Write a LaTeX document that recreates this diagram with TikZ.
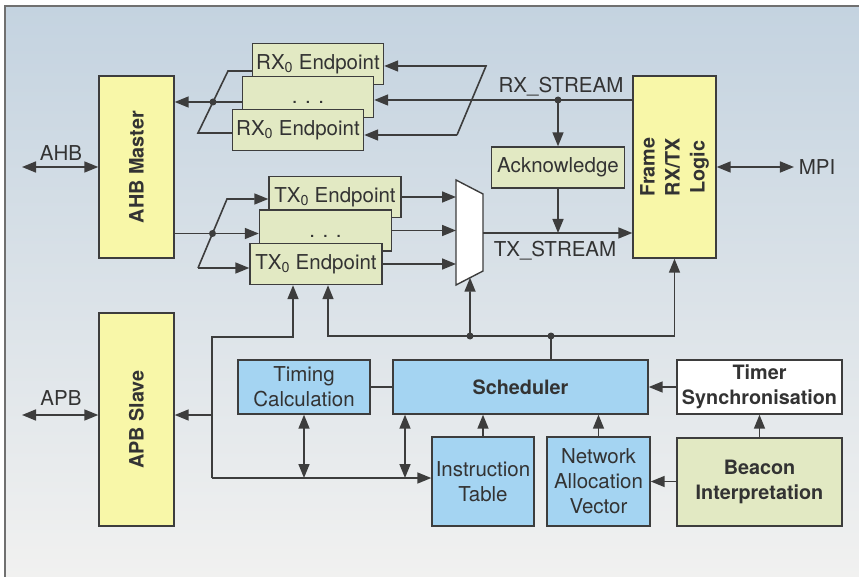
\documentclass[tikz,border=0pt]{standalone}
\usepackage{fontspec}
\setmainfont{TeX Gyre Heros}
\usepackage{xcolor}
\usepackage{tikz}
\usetikzlibrary{arrows.meta,calc}

\definecolor{linegray}{HTML}{3D3D3D}
\definecolor{textgray}{HTML}{333333}
\definecolor{framegray}{HTML}{707070}
\definecolor{yellowfill}{HTML}{F8F7A8}
\definecolor{greenfill}{HTML}{E2E9C3}
\definecolor{bluefill}{HTML}{A4D4F2}
\definecolor{bgtop}{HTML}{C4D3E0}
\definecolor{bgmid}{HTML}{DCE2E8}
\definecolor{bgbottom}{HTML}{F1F1F0}

\begin{document}
\begin{tikzpicture}[x=1pt, y=-1pt, color=linegray, line width=1.6pt,
    font=\fontsize{20.5}{25}\selectfont,
    >={Triangle[length=14pt,width=11pt]},
    blk/.style={rectangle, draw, line width=1.4pt, inner sep=0pt, align=center, text=textgray},
    yellowblk/.style={blk, fill=yellowfill},
    greenblk/.style={blk, fill=greenfill},
    blueblk/.style={blk, fill=bluefill},
    whiteblk/.style={blk, fill=white},
    boldtext/.style={font=\fontsize{19.8}{25}\selectfont\bfseries},
    bustag/.style={text=textgray, inner sep=2pt}]
    \useasboundingbox (0,0) rectangle (859,577);

    % Background
    \shade[top color=bgtop, middle color=bgmid, bottom color=bgbottom] (5,6) rectangle (859,577);
    \draw[framegray, line width=1.2pt] (5,577) -- (5,6) -- (859,6);

    % Bus interfaces
    \node[yellowblk, boldtext, minimum width=75pt, minimum height=182pt] (ahb) at (136.5,167) {\rotatebox{90}{AHB Master}};
    \node[yellowblk, boldtext, minimum width=75pt, minimum height=213pt] (apb) at (136.5,419.5) {\rotatebox{90}{APB Slave}};
    \node[yellowblk, boldtext, minimum width=83pt, minimum height=182pt] (frame) at (674.5,167)
        {\rotatebox{90}{\begin{tabular}{@{}c@{}}Frame\\RX/TX\\Logic\end{tabular}}};

    \node[bustag] (ahbtag) at (61,153) {AHB};
    \node[bustag] (apbtag) at (61,398) {APB};
    \node[bustag, inner sep=4pt] (mpi) at (817,167) {MPI};
    \coordinate (ahbbus) at (22,167);
    \coordinate (apbbus) at (22,415);
    \draw[<->] (ahbbus) -- (ahb.west);
    \draw[<->] (apbbus) -- (apbbus -| apb.west);
    \draw[<->] (frame.east) -- (mpi.west);

    % Endpoints
    \node[greenblk, minimum width=131pt, minimum height=41pt] (rxA) at (318,64) {RX\textsubscript{0} Endpoint};
    \node[greenblk, minimum width=131pt, minimum height=41pt] (rxB) at (308,97) {\rule{0pt}{14pt}. . .};
    \node[greenblk, minimum width=131pt, minimum height=41pt] (rxC) at (298,130) {RX\textsubscript{0} Endpoint};
    \node[greenblk, minimum width=132pt, minimum height=41pt] (txA) at (335,197) {TX\textsubscript{0} Endpoint};
    \node[greenblk, minimum width=132pt, minimum height=41pt] (txB) at (325.5,230.5) {\rule{0pt}{14pt}. . .};
    \node[greenblk, minimum width=132pt, minimum height=41pt] (txC) at (316,264) {TX\textsubscript{0} Endpoint};
    \node[greenblk, minimum width=133pt, minimum height=41pt] (ack) at (558,167.5) {Acknowledge};

    % Multiplexer
    \coordinate (muxNW) at (456,180);
    \coordinate (muxNE) at (483,194);
    \coordinate (muxSE) at (483,271);
    \coordinate (muxSW) at (456,285);
    \draw[fill=white, line width=1.4pt] (muxNW) -- (muxNE) -- (muxSE) -- (muxSW) -- cycle;
    \coordinate (muxsel) at ($(muxSW)!0.52!(muxSE)$);

    % RX side
    \coordinate (rxfanT) at (228,71);
    \coordinate (rxfanB) at (198,133);
    \coordinate (rxdot) at ($(rxfanT)!0.5!(rxfanB)$);
    \draw (rxA.west |- rxfanT) -- (rxfanT) -- (rxfanB) -- (rxfanB -| rxC.west);
    \draw[->] (rxdot -| rxB.west) -- (rxdot -| ahb.east);
    \fill (rxdot) circle (3.5);
    \coordinate (rxinT) at (486,66);
    \coordinate (rxinB) at (457,135);
    \coordinate (rxstream) at (558,100);
    \draw[->] (rxinB) -- (rxinT) -- (rxinT -| rxA.east);
    \draw[->] (rxinB) -- (rxinB -| rxC.east);
    \draw[->] (rxstream -| frame.west) -- (rxstream -| rxB.east);
    \draw[->] (rxstream) -- (ack.north);
    \fill (rxstream) circle (3.5);
    \node[bustag] (rxtag) at (561,87) {RX\_STREAM};

    % TX side
    \coordinate (txfanT) at (227,199);
    \coordinate (txfanB) at (198,268);
    \coordinate (txdot) at ($(txfanT)!0.5!(txfanB)$);
    \draw (txdot -| ahb.east) -- (txdot);
    \draw[->] (txdot) -- (txdot -| txB.west);
    \draw[->] (txfanB) -- (txfanT) -- (txfanT -| txA.west);
    \draw[->] (txfanB) -- (txfanB -| txC.west);
    \fill (txdot) circle (3.5);
    \draw[->] (txA.east) -- (txA.east -| muxNW);
    \draw[->] (txB.east) -- (txB.east -| muxNW);
    \draw[->] (txC.east) -- (txC.east -| muxNW);
    \coordinate (txstream) at (483,233);
    \draw[->] (txstream) -- (txstream -| frame.west);
    \draw[->] (ack.south) -- (ack.south |- txstream);
    \node[bustag] (txtag) at (555,251) {TX\_STREAM};

    % Scheduling
    \node[blueblk, minimum width=132pt, minimum height=54pt] (timing) at (304,387) {Timing\\Calculation};
    \node[blueblk, boldtext, minimum width=255pt, minimum height=54pt] (sched) at (520.5,387) {Scheduler};
    \node[blueblk, minimum width=102pt, minimum height=89pt] (instr) at (483,481.5) {Instruction\\Table};
    \node[blueblk, minimum width=103pt, minimum height=89pt] (nav) at (598.5,481.5) {Network\\Allocation\\Vector};
    \node[whiteblk, boldtext, minimum width=165pt, minimum height=54pt] (timer) at (759.5,387) {Timer\\Synchronisation};
    \node[greenblk, boldtext, minimum width=165pt, minimum height=88pt] (beacon) at (759.5,482) {Beacon\\Interpretation};

    % Configuration bus
    \coordinate (cfgB) at (212,478);
    \coordinate (cfgT) at (212,337);
    \coordinate (cfgup) at (293,337);
    \coordinate (apbtap) at (212,415);
    \coordinate (schedcfg) at (405,478);
    \draw[->] (cfgB) -- (cfgT) -- (cfgup) -- (cfgup |- txC.south);
    \draw[->] (cfgB) -- (cfgB -| instr.west);
    \draw[->] (apbtap) -- (apbtap -| apb.east);
    \draw[<->] (timing.south) -- (timing.south |- cfgB);
    \draw[<->] (schedcfg |- sched.south) -- (schedcfg);

    % Scheduler outputs
    \coordinate (schedtap) at (551,336);
    \coordinate (busL) at (328,336);
    \coordinate (muxtap) at (470,336);
    \draw (sched.north -| schedtap) -- (schedtap);
    \draw[->] (schedtap) -- (busL) -- (busL |- txC.south);
    \draw[->] (schedtap) -- (schedtap -| frame.south) -- (frame.south);
    \draw[->] (muxtap) -- (muxsel);
    \fill (schedtap) circle (3.5);
    \fill (muxtap) circle (3.5);

    % Scheduler inputs
    \draw (timing.east) -- (sched.west);
    \draw[->] (instr.north) -- (instr.north |- sched.south);
    \draw[->] (nav.north) -- (nav.north |- sched.south);
    \draw[->] (timer.west) -- (sched.east |- timer.west);
    \draw[->] (beacon.north) -- (timer.south);
    \draw[->] (beacon.west |- nav.east) -- (nav.east);
\end{tikzpicture}
\end{document}
